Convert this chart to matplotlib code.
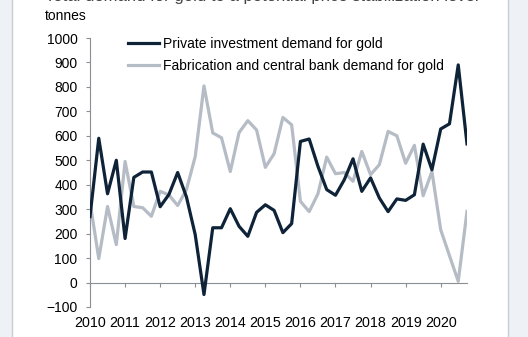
import numpy as np
import matplotlib
matplotlib.use("Agg")
import matplotlib.pyplot as plt
from matplotlib.patches import Rectangle

# ==============================
# DATA (quarterly, 2010 Q1 - 2020 Q4, tonnes)
# ==============================
start_year = 2010
private_investment = [270, 590, 363, 500, 180, 430, 452, 452, 310, 360, 450, 350,
                      196, -49, 224, 224, 302, 230, 189, 287, 318, 295, 204, 241,
                      577, 587, 475, 380, 357, 420, 506, 373, 428, 346, 290, 342,
                      336, 359, 566, 461, 628, 649, 890, 567]
fabrication_cb = [330, 98, 311, 155, 495, 311, 306, 271, 373, 358, 315, 380,
                  515, 804, 612, 592, 454, 613, 662, 624, 471, 527, 675, 645,
                  332, 290, 363, 513, 445, 450, 414, 536, 441, 482, 618, 600,
                  488, 561, 355, 454, 216, 110, 5, 291]
years = list(range(2010, 2021))
series_labels = ["Private investment demand for gold",
                 "Fabrication and central bank demand for gold"]

x = start_year + np.arange(len(private_investment)) / 4.0

plt.rcParams["font.family"] = ["Liberation Sans", "DejaVu Sans"]

W, H = 528, 337
fig = plt.figure(figsize=(W / 100, H / 100), dpi=100)
fig.patch.set_facecolor("#eef1f5")
fig.patches.append(Rectangle((12 / W, -0.02), 496 / W, 1.04, transform=fig.transFigure,
                             facecolor="white", edgecolor="#c9ced6", lw=1.0, zorder=-5))

ax = fig.add_axes([90 / W, 1 - 307 / H, 377 / W, 269 / H])
ax.set_facecolor("none")

dark = "#0e2238"
grey = "#b5bcc5"
ax.plot(x, private_investment, color=dark, lw=2.3, label=series_labels[0], zorder=3)
ax.plot(x, fabrication_cb, color=grey, lw=2.3, label=series_labels[1], zorder=2)

ax.set_xlim(2010, 2020.75)
ax.set_ylim(-100, 1000)
ax.set_yticks(range(-100, 1001, 100))
ax.set_xticks(years)
ax.set_xticklabels([str(y) for y in years])

for s in ["top", "right"]:
    ax.spines[s].set_visible(False)
ax.spines["left"].set_color("#8a8f96")
ax.spines["bottom"].set_color("#8a8f96")
ax.spines["bottom"].set_position(("data", 0))
ax.tick_params(axis="y", direction="out", length=3, color="#8a8f96",
               labelsize=10, pad=6)
ax.tick_params(axis="x", direction="out", length=3, color="#8a8f96",
               labelsize=10.3, pad=21)

ax.legend(loc="upper left", bbox_to_anchor=(128 / W, 1 - 37 / H),
          bbox_transform=fig.transFigure, frameon=False, fontsize=10,
          handlelength=2.2, handletextpad=0.3, labelspacing=0.58,
          borderpad=0, borderaxespad=0)

fig.text(45 / W, 1 - 16 / H, "tonnes", fontsize=10, va="center", ha="left")
fig.text(45 / W, 1 - 1 / H, "Total demand for gold to a potential price stabilization level",
         fontsize=12, va="baseline", ha="left", color="#444444")

fig.savefig("out.png", dpi=100)
